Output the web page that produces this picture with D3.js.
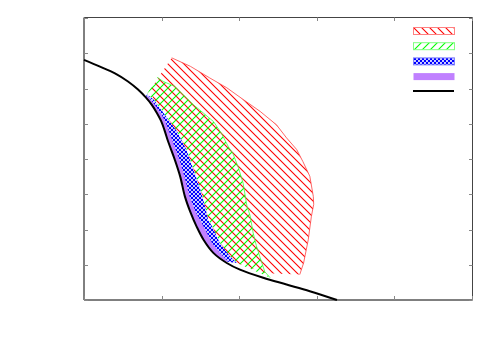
<!DOCTYPE html>
<html>
<head>
<meta charset="utf-8">
<script src="https://cdn.jsdelivr.net/npm/d3@7"></script>
<style>
  body { margin: 0; background: #fff; }
  svg { display: block; }
</style>
</head>
<body>
<div id="chart"></div>
<script>
// outline of each band (data units, x 0..5, y 0..8)
let blackCurve = [[0,6.81],[0.206,6.62],[0.399,6.43],[0.567,6.20],[0.696,5.97],[0.799,5.74],[0.876,5.53],[0.941,5.30],[0.993,5.08],[1.037,4.82],[1.082,4.51],[1.17,3.98],[1.24,3.50],[1.30,2.94],[1.37,2.50],[1.45,2.09],[1.54,1.71],[1.67,1.33],[1.84,1.05],[2.01,0.86],[2.31,0.63],[2.61,0.44],[2.91,0.25],[3.26,0.0]];

let innerEdge = [[0.80,5.77],[0.876,5.53],[0.941,5.30],[0.993,5.08],[1.037,4.82],[1.082,4.51],[1.17,3.98],[1.24,3.50],[1.30,2.94],[1.37,2.50],[1.45,2.09],[1.54,1.71],[1.67,1.33],[1.80,1.10]];
let purpleRight = [[0.825,5.77],[0.915,5.53],[0.99,5.30],[1.045,5.08],[1.09,4.82],[1.14,4.51],[1.23,3.98],[1.295,3.50],[1.36,2.94],[1.44,2.49],[1.54,2.09],[1.65,1.62],[1.75,1.34],[1.86,1.09]];
let blueRight = [[0.81,5.84],[0.90,5.68],[1.06,5.20],[1.20,4.78],[1.32,4.26],[1.41,3.70],[1.50,3.13],[1.56,2.65],[1.60,2.27],[1.65,2.09],[1.75,1.62],[1.88,1.24],[1.97,1.05]];
let greenOuter = [[0.94,6.32],[1.02,6.20],[1.17,6.06],[1.28,5.82],[1.41,5.54],[1.54,5.30],[1.67,5.06],[1.77,4.73],[1.86,4.35],[1.92,4.15],[1.99,3.75],[2.05,3.32],[2.10,2.66],[2.14,2.40],[2.18,1.90],[2.22,1.55],[2.27,1.20],[2.33,0.80],[2.40,0.63]];
let redOuter = [[1.13,6.87],[1.37,6.63],[1.62,6.30],[1.84,6.02],[2.05,5.69],[2.27,5.35],[2.48,4.97],[2.61,4.60],[2.74,4.27],[2.82,3.93],[2.91,3.51],[2.955,2.94],[2.96,2.71],[2.93,2.37],[2.89,1.71],[2.83,1.05],[2.78,0.72]];
let redCorner = [[1.13,6.87],[0.85,5.95]];
let redBottom = [[2.35,0.76],[2.78,0.72]];

let xTicks = [0,1,2,3,4,5];
let yTicks = [0,1,2,3,4,5,6,7,8];

let width = 500, height = 350;
let mLeft = 84, mRight = 472, mTop = 18, mBottom = 300;

let svg = d3.select('#chart').append('svg')
    .attr('width', width)
    .attr('height', height);

let x = d3.scaleLinear().domain([0, 5]).range([mLeft, mRight]);
let y = d3.scaleLinear().domain([0, 8]).range([mBottom, mTop]);

// fill patterns (gnuplot-ish)
let defs = svg.append('defs');

function hatch(id, color, d, size) {
    let p = defs.append('pattern')
        .attr('id', id)
        .attr('patternUnits', 'userSpaceOnUse')
        .attr('width', size)
        .attr('height', size);
    p.append('path')
        .attr('d', d)
        .attr('stroke', color)
        .attr('stroke-width', 1.1)
        .attr('fill', 'none');
}
hatch('red-hatch', '#ff0000', 'M-2,-2L10,10M-2,6L2,10M6,-2L10,2', 8);
hatch('green-hatch', '#00ff00', 'M-2,10L10,-2M-2,2L2,-2M6,10L10,6', 8);

// blue: fine crosshatch, blue with white holes
let bp = defs.append('pattern')
    .attr('id', 'blue-hatch')
    .attr('patternUnits', 'userSpaceOnUse')
    .attr('width', 4)
    .attr('height', 4);
bp.append('rect').attr('width', 4).attr('height', 4).attr('fill', '#0000ff');
bp.selectAll('circle').data([[0,0],[4,0],[0,4],[4,4],[2,2]]).enter().append('circle')
    .attr('cx', d => d[0]).attr('cy', d => d[1])
    .attr('r', 1.05)
    .attr('fill', '#fff');

let line = d3.line().x(d => x(d[0])).y(d => y(d[1]));
let smooth = d3.line().x(d => x(d[0])).y(d => y(d[1])).curve(d3.curveCatmullRom);

function band(outer, inner) {
    return line(outer.concat(inner.slice().reverse())) + 'Z';
}

let plot = svg.append('g');

// red band
let redInner = redCorner.concat(blueRight.slice(1), redBottom);
plot.append('path')
    .attr('d', band(redOuter, redInner))
    .attr('fill', 'url(#red-hatch)');
plot.append('path')
    .attr('d', line(redOuter))
    .attr('fill', 'none')
    .attr('stroke', '#ff4040')
    .attr('stroke-width', 0.8);

// green band
plot.append('path')
    .attr('d', band(greenOuter, blueRight))
    .attr('fill', 'url(#green-hatch)');
plot.append('path')
    .attr('d', line(greenOuter))
    .attr('fill', 'none')
    .attr('stroke', '#40ff40')
    .attr('stroke-width', 0.8);

// blue band
plot.append('path')
    .attr('d', band(blueRight, innerEdge))
    .attr('fill', 'url(#blue-hatch)');

// purple band
plot.append('path')
    .attr('d', band(purpleRight, innerEdge))
    .attr('fill', '#c080ff');

// black curve
plot.append('path')
    .attr('d', smooth(blackCurve))
    .attr('fill', 'none')
    .attr('stroke', '#000')
    .attr('stroke-width', 2);

// frame + inward ticks on all sides
let frame = svg.append('g');
frame.append('line').attr('x1', mLeft).attr('x2', mLeft).attr('y1', mTop - 0.5).attr('y2', mBottom).attr('stroke', '#000');
frame.append('line').attr('x1', mLeft).attr('x2', mRight + 0.5).attr('y1', mBottom).attr('y2', mBottom).attr('stroke', '#000');
frame.append('line').attr('x1', mLeft).attr('x2', mRight + 0.5).attr('y1', mTop - 0.5).attr('y2', mTop - 0.5).attr('stroke', '#444');
frame.append('line').attr('x1', mRight + 0.5).attr('x2', mRight + 0.5).attr('y1', mTop - 0.5).attr('y2', mBottom).attr('stroke', '#444');

frame.selectAll('line.xb').data(xTicks).enter().append('line')
    .attr('class', 'xb')
    .attr('x1', d => Math.round(x(d)) + 0.5).attr('x2', d => Math.round(x(d)) + 0.5)
    .attr('y1', mBottom).attr('y2', mBottom - 4)
    .attr('stroke', '#888');
frame.selectAll('line.xt').data(xTicks).enter().append('line')
    .attr('class', 'xt')
    .attr('x1', d => Math.round(x(d)) + 0.5).attr('x2', d => Math.round(x(d)) + 0.5)
    .attr('y1', mTop - 0.5).attr('y2', mTop + 3)
    .attr('stroke', '#888');
frame.selectAll('line.yl').data(yTicks).enter().append('line')
    .attr('class', 'yl')
    .attr('x1', mLeft).attr('x2', mLeft + 4)
    .attr('y1', d => Math.round(y(d)) + 0.5).attr('y2', d => Math.round(y(d)) + 0.5)
    .attr('stroke', '#888');
frame.selectAll('line.yr').data(yTicks).enter().append('line')
    .attr('class', 'yr')
    .attr('x1', mRight + 0.5).attr('x2', mRight - 3)
    .attr('y1', d => Math.round(y(d)) + 0.5).attr('y2', d => Math.round(y(d)) + 0.5)
    .attr('stroke', '#888');

// legend (no titles, only samples)
let keys = [
    {fill: 'url(#red-hatch)', stroke: '#ff8080'},
    {fill: 'url(#green-hatch)', stroke: '#80ff80'},
    {fill: 'url(#blue-hatch)', stroke: '#8080ff'},
    {fill: '#c080ff', stroke: 'none'}
];
let legend = svg.append('g').attr('transform', 'translate(413,27)');
legend.selectAll('rect').data(keys).enter().append('rect')
    .attr('x', 0.5)
    .attr('y', (d, i) => i * 15.2 + 0.5)
    .attr('width', 41)
    .attr('height', 7)
    .attr('fill', d => d.fill)
    .attr('stroke', d => d.stroke);
legend.append('line')
    .attr('x1', 0).attr('x2', 41)
    .attr('y1', 64).attr('y2', 64)
    .attr('stroke', '#000')
    .attr('stroke-width', 2);
</script>
</body>
</html>
